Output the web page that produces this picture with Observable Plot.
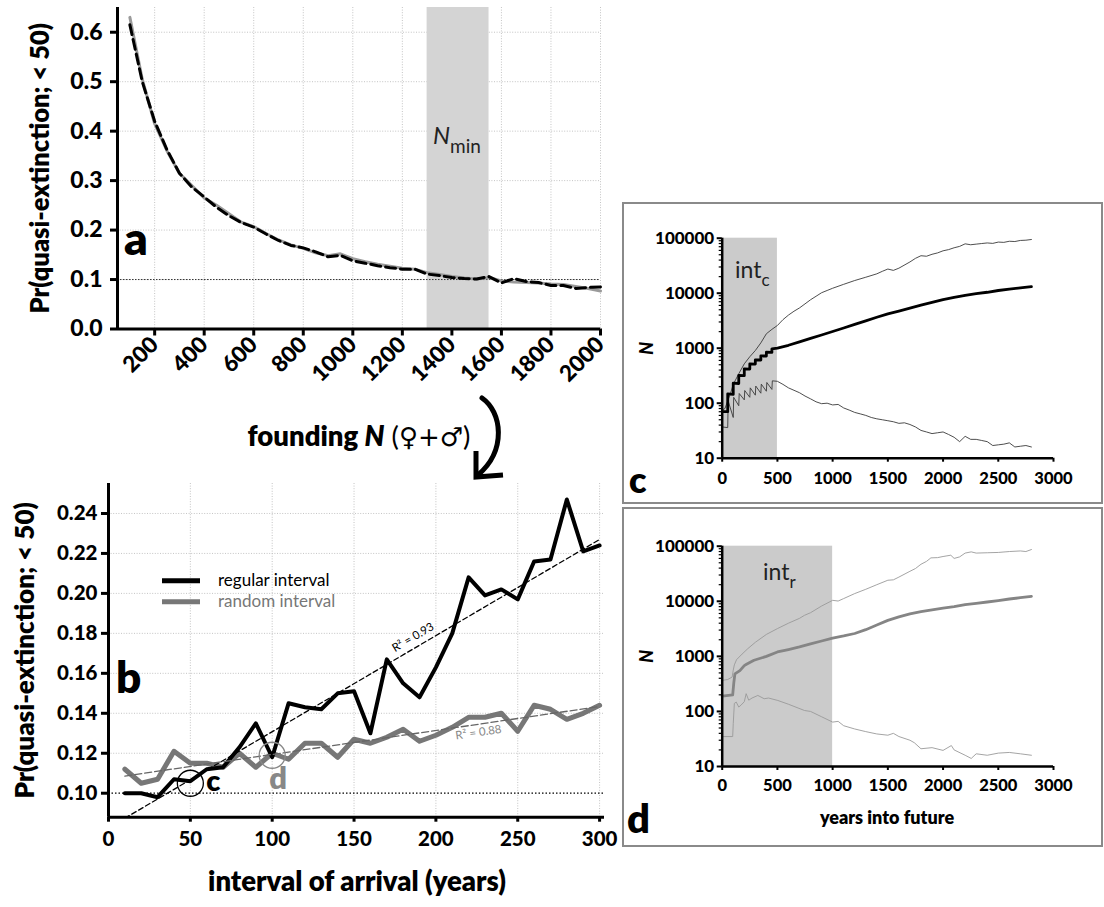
<!DOCTYPE html>
<html><head><meta charset="utf-8">
<script src="https://cdn.jsdelivr.net/npm/d3@7"></script>
<script src="https://cdn.jsdelivr.net/npm/@observablehq/plot@0.6"></script>
<style>
body{margin:0;background:#fff;}
#wrap{position:relative;width:1104px;height:907px;overflow:hidden;background:#fff;font-family:Lato,sans-serif;}
#overlay{position:absolute;left:0;top:0;pointer-events:none;}
</style></head><body><div id="wrap"></div>
<script>
// ---------- Panel a: founding N vs Pr(quasi-extinction) ----------
const foundN = [100,150,200,250,300,350,400,450,500,550,600,650,700,750,800,850,900,950,1000,1050,1100,1150,1200,1250,1300,1350,1400,1450,1500,1550,1600,1650,1700,1750,1800,1850,1900,1950,2000];
const pSolid = [0.63,0.505,0.415,0.36,0.315,0.29,0.265,0.25,0.233,0.216,0.207,0.193,0.18,0.17,0.163,0.154,0.148,0.152,0.142,0.136,0.131,0.127,0.123,0.121,0.114,0.11,0.106,0.103,0.101,0.104,0.097,0.095,0.094,0.093,0.091,0.09,0.086,0.082,0.077];
const pDashed = [0.615,0.50,0.42,0.362,0.315,0.287,0.267,0.246,0.229,0.215,0.206,0.192,0.179,0.169,0.164,0.156,0.146,0.149,0.138,0.133,0.128,0.124,0.121,0.121,0.111,0.108,0.104,0.102,0.101,0.106,0.093,0.102,0.096,0.094,0.088,0.088,0.082,0.084,0.085];
const aXTicks = [200,400,600,800,1000,1200,1400,1600,1800,2000];
const aYTicks = [0,0.1,0.2,0.3,0.4,0.5,0.6];
const nminBand = [[1300,1550]];
const quasiLevel = [0.1];

// ---------- Panel b: interval of arrival ----------
const arrivalInterval = [10,20,30,40,50,60,70,80,90,100,110,120,130,140,150,160,170,180,190,200,210,220,230,240,250,260,270,280,290,300];
const pRegular = [0.100,0.100,0.098,0.107,0.106,0.112,0.113,0.123,0.135,0.118,0.145,0.143,0.142,0.150,0.151,0.130,0.167,0.155,0.148,0.163,0.180,0.208,0.199,0.202,0.197,0.216,0.217,0.247,0.221,0.224];
const pRandom = [0.112,0.105,0.107,0.121,0.115,0.115,0.113,0.120,0.113,0.120,0.117,0.125,0.125,0.118,0.127,0.125,0.128,0.132,0.126,0.129,0.133,0.138,0.138,0.140,0.131,0.144,0.142,0.137,0.140,0.144];
const bXTicks = [0,50,100,150,200,250,300];
const bYTicks = [0.10,0.12,0.14,0.16,0.18,0.20,0.22,0.24];
const highlighted = [{t:50,p:0.105,label:"c",color:"#000"},{t:100,p:0.119,label:"d",color:"#888"}];
const r2Regular = [{t:186,p:0.178,text:"R² = 0.93"}];
const r2Random = [{t:226,p:0.1304,text:"R² = 0.88"}];

// ---------- Panels c, d: N over years into future ----------
const cdXTicks = [0,500,1000,1500,2000,2500,3000];
const cdYTicks = [10,100,1000,10000,100000];
const cdYMinor = [20,30,40,50,60,70,80,90,200,300,400,500,600,700,800,900,2000,3000,4000,5000,6000,7000,8000,9000,20000,30000,40000,50000,60000,70000,80000,90000];
const intC = [[0,500]];
const intR = [[0,1000]];

const cMedYears = [0,50,50,100,100,150,150,200,200,250,250,300,300,350,350,400,400,450,450,500,600,700,800,900,1000,1100,1200,1300,1400,1500,1600,1700,1800,1900,2000,2100,2200,2300,2400,2500,2600,2700,2800];
const cMedN = [70,70,148,145,231,228,319,316,422,418,520,515,615,610,728,722,845,840,975,1000,1130,1305,1510,1740,2010,2330,2710,3140,3650,4220,4740,5350,6050,6810,7670,8400,9100,9800,10400,11200,11900,12500,13200];
const cUpYears = [0,25,50,75,100,150,200,250,300,350,400,450,500,550,600,650,700,750,800,850,900,950,1000,1100,1200,1300,1400,1450,1500,1550,1600,1700,1750,1800,1850,1900,1950,2000,2050,2100,2150,2200,2250,2300,2350,2400,2450,2500,2550,2600,2650,2700,2750,2800];
const cUpN = [75,80,110,150,220,343,520,700,908,1250,1830,2200,2590,3300,4000,4700,5400,6400,7600,8800,10200,11200,12300,14500,17000,19500,22500,25000,27500,26000,28500,37000,43000,48000,47000,51000,54000,59000,62000,67000,71000,79000,76000,78000,80000,82000,80500,85000,84000,88000,87000,91000,92000,94700];
const cLowYears = [0,50,54,100,104,150,154,200,204,250,254,300,304,350,354,400,404,450,454,500,550,600,700,750,800,850,900,950,1000,1050,1100,1150,1200,1250,1300,1350,1400,1450,1500,1550,1600,1650,1700,1750,1800,1850,1900,1950,2000,2050,2100,2150,2200,2250,2300,2350,2400,2450,2500,2550,2600,2650,2700,2750,2800];
const cLowN = [37,36,110,55,128,90,150,115,170,128,190,140,205,152,222,165,238,178,255,250,220,190,155,135,120,106,98,100,93,95,82,75,68,64,60,55,52,50,48,46,43,44,41,37,32,30,28,29,30,27,24,20,25,22,22,21,20,17,17.5,18,19,16,16.5,17,16];

const dMedYears = [0,95,105,115,160,200,220,288,400,500,600,700,800,900,1000,1100,1200,1300,1400,1500,1600,1700,1800,1900,2000,2100,2200,2300,2400,2500,2600,2700,2800];
const dMedN = [190,200,330,480,550,680,720,850,1000,1200,1330,1480,1680,1900,2150,2350,2600,3050,3700,4500,5200,5900,6500,7000,7500,8000,8700,9200,9700,10300,11000,11600,12300];
const dUpYears = [0,50,90,100,110,130,180,232,300,400,500,600,700,745,800,900,1000,1050,1100,1200,1300,1400,1500,1550,1600,1700,1750,1800,1850,1890,1950,2000,2070,2100,2150,2200,2255,2300,2400,2500,2600,2700,2750,2800];
const dUpN = [366,380,420,560,700,870,1100,1380,1800,2500,3190,4000,4900,5560,6200,8200,10400,10100,11200,13800,16500,20000,24100,24500,27500,35000,39300,47000,53000,61400,62000,65000,68600,60000,64000,75000,78900,75000,76000,77000,80000,82000,80000,87000];
const dLowYears = [0,95,100,110,127,150,170,200,217,240,270,323,380,420,504,600,745,800,900,1000,1050,1100,1200,1300,1400,1500,1550,1600,1700,1740,1800,1900,2000,2075,2100,2200,2255,2300,2400,2500,2600,2700,2800];
const dLowN = [35,35,60,140,148,120,130,150,210,160,175,195,170,175,158,135,104,100,80,64,66,55,48,43,39,37,40,35,30,27,21,22,19.6,24,20,16,14,17,16,17.5,18,17,16];

const rows = (xs, ys) => xs.map((x, i) => ({x, y: ys[i]}));
const wrap = document.getElementById("wrap");
function place(svg, left, top) {
  svg.style.position = "absolute";
  svg.style.left = left + "px";
  svg.style.top = top + "px";
  wrap.appendChild(svg);
}
const baseStyle = (size) => ({fontFamily: "Lato, sans-serif", fontSize: size + "px", fontWeight: "900", background: "transparent", overflow: "visible", color: "#000"});
const gridStyle = {stroke: "#b5b5b5", strokeOpacity: 0.8, strokeDasharray: "1,1.6", strokeWidth: 1};
const intFmt = d3.format("d");

// Panel a
const plotA = Plot.plot({
  width: 610, height: 460,
  marginLeft: 117, marginRight: 10, marginTop: 7, marginBottom: 131.5,
  x: {domain: [50, 2000]},
  y: {domain: [0, 0.65]},
  style: baseStyle(20),
  marks: [
    Plot.gridX(aXTicks, gridStyle),
    Plot.gridY(aYTicks.filter(d => d > 0), gridStyle),
    Plot.rect(nminBand, {x1: d => d[0], x2: d => d[1], y1: 0, y2: 0.65, fill: "#d4d4d4"}),
    Plot.ruleY(quasiLevel, {stroke: "#333", strokeWidth: 1, strokeDasharray: "1.5,1.5"}),
    Plot.line(rows(foundN, pSolid), {x: "x", y: "y", stroke: "#9a9a9a", strokeWidth: 3}),
    Plot.line(rows(foundN, pDashed), {x: "x", y: "y", stroke: "#000", strokeWidth: 3, strokeDasharray: "10,5"}),
    Plot.ruleX([50], {strokeWidth: 3}),
    Plot.ruleY([0], {strokeWidth: 3}),
    Plot.axisY(aYTicks, {tickSize: 7, strokeWidth: 3, tickPadding: 8, fontSize: 23, tickFormat: d3.format(".1f"), label: null}),
    Plot.axisX(aXTicks, {tickSize: 7, strokeWidth: 3, tickPadding: 5, tickRotate: -45, fontSize: 22.5, tickFormat: intFmt, label: null}),
    Plot.text(["Pr(quasi-extinction; < 50)"], {text: d => d, frameAnchor: "left", textAnchor: "middle", rotate: -90, dx: -77, fontSize: 25.5, fontWeight: 800})
  ]
});
place(plotA, 0, 0);

// Panel b
const bRows = arrivalInterval.map((t, i) => ({t, reg: pRegular[i], rnd: pRandom[i]}));
const plotB = Plot.plot({
  width: 620, height: 447,
  marginLeft: 108, marginRight: 16, marginTop: 23, marginBottom: 90.3,
  x: {domain: [0, 303]},
  y: {domain: [0.088, 0.255]},
  style: baseStyle(20),
  marks: [
    Plot.gridX(bXTicks.filter(d => d > 0), gridStyle),
    Plot.gridY(bYTicks.filter(d => d > 0.1), gridStyle),
    Plot.ruleY(quasiLevel, {stroke: "#000", strokeWidth: 1.3, strokeDasharray: "1.5,2"}),
    Plot.line(bRows, {x: "t", y: "rnd", stroke: "#777", strokeWidth: 5}),
    Plot.line(bRows, {x: "t", y: "reg", stroke: "#000", strokeWidth: 4}),
    Plot.linearRegressionY(bRows, {x: "t", y: "reg", stroke: "#000", strokeWidth: 1.3, strokeDasharray: "5,3", ci: 0, clip: true}),
    Plot.linearRegressionY(bRows, {x: "t", y: "rnd", stroke: "#666", strokeWidth: 1.3, strokeDasharray: "7,3", ci: 0, clip: true}),
    Plot.text(r2Regular, {x: "t", y: "p", text: "text", rotate: -30.6, fontSize: 11.5, fontWeight: 400, fill: "#000"}),
    Plot.text(r2Random, {x: "t", y: "p", text: "text", rotate: -8.1, fontSize: 11.5, fontWeight: 400, fill: "#888"}),
    Plot.dot(highlighted, {x: "t", y: "p", r: 13, stroke: "color", fill: "none", strokeWidth: 1.3}),
    Plot.text(highlighted.filter(d => d.label === "c"), {x: "t", y: "p", text: "label", dx: 23, dy: -2, fontSize: 29, fontWeight: 800, fill: "color"}),
    Plot.text(highlighted.filter(d => d.label === "d"), {x: "t", y: "p", text: "label", dx: 6, dy: 24, fontSize: 31, fontWeight: 800, fill: "color"}),
    Plot.ruleX([0], {strokeWidth: 3}),
    Plot.ruleY([0.088], {strokeWidth: 3}),
    Plot.axisY(bYTicks, {tickSize: 7, strokeWidth: 3, tickPadding: 4, fontSize: 20.5, tickFormat: d3.format(".2f"), label: null}),
    Plot.axisX(bXTicks, {tickSize: 5, strokeWidth: 3, tickPadding: 9, fontSize: 20.5, label: null}),
    Plot.text(["Pr(quasi-extinction; < 50)"], {text: d => d, frameAnchor: "left", textAnchor: "middle", rotate: -90, dx: -83, fontSize: 26, fontWeight: 800})
  ]
});
place(plotB, 0, 460);

// Panels c & d
function nPanel(cfg) {
  return Plot.plot({
    width: 484, height: cfg.height,
    marginLeft: 101.7, marginRight: 51, marginTop: cfg.mt, marginBottom: cfg.mb,
    x: {domain: [0, 3000]},
    y: {type: "log", domain: [10, 100000]},
    style: baseStyle(16),
    marks: [
      Plot.rect(cfg.band, {x1: d => d[0], x2: d => d[1], y1: 10, y2: 100000, fill: "#cbcbcb"}),
      Plot.line(rows(cfg.upX, cfg.upY), {x: "x", y: "y", stroke: cfg.thin, strokeWidth: 0.9}),
      Plot.line(rows(cfg.lowX, cfg.lowY), {x: "x", y: "y", stroke: cfg.thin, strokeWidth: 0.9}),
      Plot.line(rows(cfg.medX, cfg.medY), {x: "x", y: "y", stroke: cfg.med, strokeWidth: 2.8}),
      Plot.ruleX([0], {strokeWidth: 2.5}),
      Plot.ruleY([10], {strokeWidth: 2.5}),
      Plot.axisY(cdYMinor, {tickSize: 3, strokeWidth: 1.2, tickFormat: () => "", label: null}),
      Plot.axisY(cdYTicks, {tickSize: 5, strokeWidth: 2, tickPadding: 3, fontSize: 17, tickFormat: intFmt, label: null}),
      Plot.axisX(cdXTicks, {tickSize: 4, strokeWidth: 2, tickPadding: cfg.xpad, fontSize: 16.5, tickFormat: intFmt, label: null}),
      Plot.text(["N"], {text: d => d, frameAnchor: "left", textAnchor: "middle", rotate: -90, dx: -75, fontSize: 18, fontWeight: 900, fontStyle: "italic"})
    ]
  });
}
place(nPanel({height: 295, mt: 32.7, mb: 42.3, band: intC, upX: cUpYears, upY: cUpN, lowX: cLowYears, lowY: cLowN, medX: cMedYears, medY: cMedN, thin: "#3a3a3a", med: "#000", xpad: 10}), 620, 205);
place(nPanel({height: 300, mt: 35.7, mb: 44, band: intR, upX: dUpYears, upY: dUpN, lowX: dLowYears, lowY: dLowN, medX: dMedYears, medY: dMedN, thin: "#9a9a9a", med: "#858585", xpad: 8.5}), 620, 510);

// Annotations overlay
wrap.insertAdjacentHTML("beforeend", `
<svg id="overlay" width="1104" height="907" font-family="Lato, sans-serif">
  <rect x="623" y="203" width="479" height="300" fill="none" stroke="#8a8a8a" stroke-width="2"/>
  <rect x="623" y="508" width="479" height="338" fill="none" stroke="#8a8a8a" stroke-width="2"/>
  <text x="124" y="255" font-size="46" font-weight="800">a</text>
  <text x="433" y="144" font-size="24" fill="#222"><tspan font-style="italic">N</tspan><tspan font-size="19" dy="9">min</tspan></text>
  <text x="359" y="446" text-anchor="middle" font-size="27.5"><tspan font-weight="800">founding </tspan><tspan font-weight="800" font-style="italic">N</tspan><tspan font-weight="400"> (</tspan><tspan font-family="DejaVu Sans" font-size="26">♀+♂</tspan><tspan font-weight="400">)</tspan></text>
  <path d="M482,398 C502,412 507,450 478,475" fill="none" stroke="#000" stroke-width="5" stroke-linecap="round"/>
  <path d="M476,451 L476,477 L503,475" fill="none" stroke="#000" stroke-width="5" stroke-linejoin="miter"/>
  <text x="116" y="693" font-size="44" font-weight="800">b</text>
  <line x1="162" y1="580.7" x2="200" y2="580.7" stroke="#000" stroke-width="5"/>
  <line x1="162" y1="601.7" x2="200" y2="601.7" stroke="#777" stroke-width="5"/>
  <text x="218" y="586" font-size="17">regular interval</text>
  <text x="218" y="607" font-size="17" fill="#777">random interval</text>
  <text x="357" y="891" text-anchor="middle" font-size="27.5" font-weight="800">interval of arrival (years)</text>
  <text x="629" y="493" font-size="36" font-weight="800">c</text>
  <text x="735" y="278" font-size="23" fill="#222">int<tspan font-size="17" dy="8">c</tspan></text>
  <text x="627" y="833" font-size="40" font-weight="800">d</text>
  <text x="763" y="580" font-size="23" fill="#222">int<tspan font-size="17" dy="8">r</tspan></text>
  <text x="887" y="824" text-anchor="middle" font-size="18" font-weight="800">years into future</text>
</svg>`);
</script></body></html>
